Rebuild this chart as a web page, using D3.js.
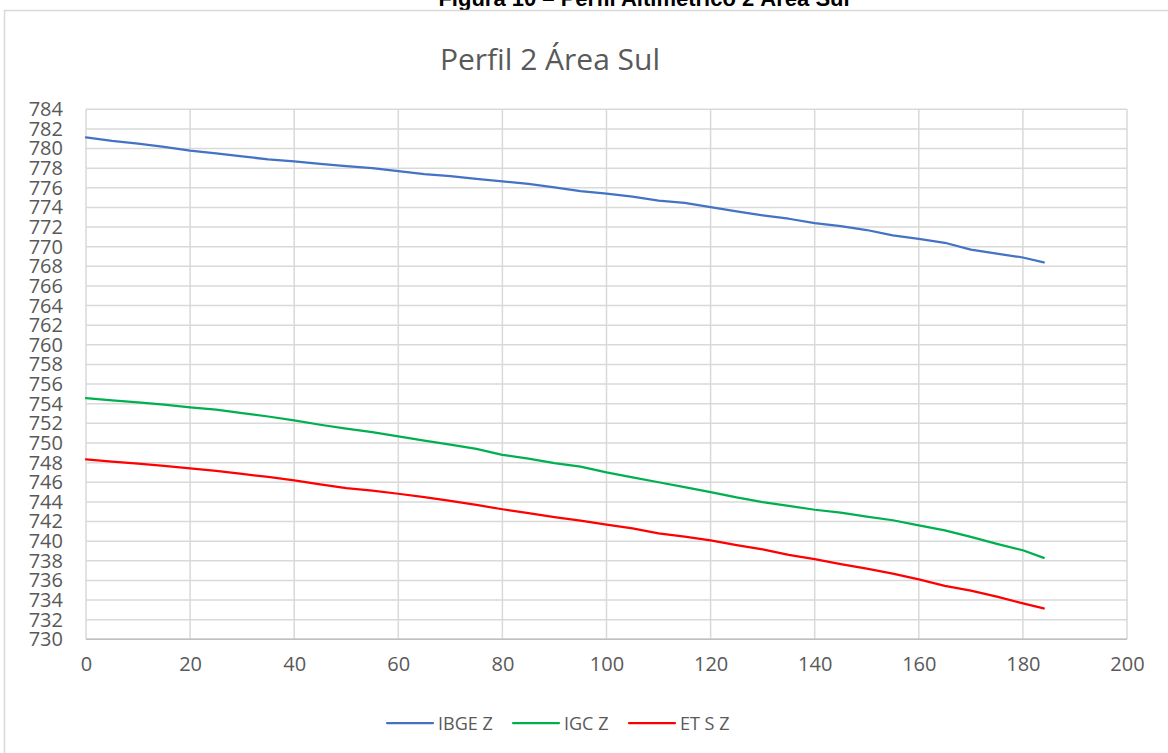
<!DOCTYPE html>
<html>
<head>
<meta charset="utf-8">
<script src="https://cdn.jsdelivr.net/npm/d3@7"></script>
<style>
  body { margin: 0; background: #fff; }
  text { font-family: "Open Sans", sans-serif; }
</style>
</head>
<body>
<svg id="chart" width="1168" height="753"></svg>
<script>
// distance along profile (x values)
const distances = [0, 5, 10, 15, 20, 25, 30, 35, 40, 45, 50, 55, 60, 65, 70, 75, 80, 85, 90,
  95, 100, 105, 110, 115, 120, 125, 130, 135, 140, 145, 150, 155, 160, 165, 170, 175, 180, 184];

// elevations
const ibgeZ = [781.15, 780.78, 780.5, 780.17, 779.8, 779.5, 779.2, 778.9, 778.7, 778.45, 778.2, 778.0,
  777.7, 777.4, 777.2, 776.9, 776.65, 776.4, 776.05, 775.67, 775.4, 775.1, 774.7, 774.47, 774.03,
  773.6, 773.2, 772.85, 772.4, 772.1, 771.7, 771.15, 770.8, 770.4, 769.7, 769.3, 768.9, 768.4];

const igcZ = [754.58, 754.34, 754.14, 753.9, 753.63, 753.39, 753.05, 752.7, 752.3, 751.86, 751.46, 751.1,
  750.68, 750.24, 749.83, 749.4, 748.8, 748.4, 747.95, 747.6, 747.0, 746.5, 746.0, 745.5, 745.0,
  744.45, 743.97, 743.6, 743.2, 742.9, 742.5, 742.13, 741.6, 741.1, 740.44, 739.73, 739.07, 738.3];

const etsZ = [748.34, 748.1, 747.9, 747.66, 747.42, 747.15, 746.85, 746.54, 746.2, 745.78, 745.4, 745.14,
  744.83, 744.48, 744.1, 743.7, 743.25, 742.85, 742.45, 742.1, 741.68, 741.3, 740.8, 740.46, 740.07,
  739.6, 739.17, 738.6, 738.17, 737.66, 737.2, 736.7, 736.1, 735.45, 734.95, 734.35, 733.66, 733.15];

const seriesNames = ["IBGE Z", "IGC Z", "ET S Z"];
const seriesColors = ["#4472C4", "#00B050", "#FF0000"];
const yTicks = d3.range(730, 785, 2);
const xTicks = [0, 20, 40, 60, 80, 100, 120, 140, 160, 180, 200];

const svg = d3.select("#chart");

// plot area
const plot = {left: 86, right: 1127, top: 109.3, bottom: 639.3};

const x = d3.scaleLinear().domain([0, 200]).range([plot.left, plot.right]);
const y = d3.scaleLinear().domain([730, 784]).range([plot.bottom, plot.top]);

// figure caption, cut off at the top of the page
svg.append("text")
  .attr("x", 644)
  .attr("y", 6)
  .attr("text-anchor", "middle")
  .style("font-family", "'Liberation Sans', Arial, sans-serif")
  .style("font-size", "22px")
  .style("font-weight", "bold")
  .attr("fill", "#000")
  .text("Figura 10 – Perfil Altimétrico 2 Área Sul");

// chart frame
svg.append("rect")
  .attr("x", 4.5)
  .attr("y", 10.5)
  .attr("width", 1180)
  .attr("height", 780)
  .attr("fill", "#fff")
  .attr("stroke", "#d9d9d9")
  .attr("stroke-width", 1.5);

// chart title
svg.append("text")
  .attr("x", 550)
  .attr("y", 70)
  .attr("text-anchor", "middle")
  .style("font-size", "30px")
  .attr("fill", "#595959")
  .text("Perfil 2 Área Sul");

// gridlines
svg.append("g")
  .selectAll("line")
  .data(yTicks)
  .enter()
  .append("line")
  .attr("x1", plot.left)
  .attr("x2", plot.right)
  .attr("y1", d => y(d))
  .attr("y2", d => y(d))
  .attr("stroke", "#d9d9d9")
  .attr("stroke-width", 1.5);

svg.append("g")
  .selectAll("line")
  .data(xTicks)
  .enter()
  .append("line")
  .attr("x1", d => x(d))
  .attr("x2", d => x(d))
  .attr("y1", plot.top)
  .attr("y2", plot.bottom)
  .attr("stroke", "#d9d9d9")
  .attr("stroke-width", 1.5);

// bottom axis line
svg.append("line")
  .attr("x1", plot.left)
  .attr("x2", plot.right)
  .attr("y1", plot.bottom)
  .attr("y2", plot.bottom)
  .attr("stroke", "#bfbfbf")
  .attr("stroke-width", 1.5);

// axes (labels only)
const yAxis = d3.axisLeft(y).tickValues(yTicks).tickSize(0).tickPadding(0).tickFormat(d3.format("d"));
svg.append("g")
  .attr("transform", "translate(63,0)")
  .call(yAxis)
  .call(g => g.select(".domain").remove())
  .selectAll("text")
  .style("font-family", "'Open Sans', sans-serif")
  .style("font-size", "20px")
  .attr("fill", "#595959");

const xAxis = d3.axisBottom(x).tickValues(xTicks).tickSize(0).tickPadding(0).tickFormat(d3.format("d"));
svg.append("g")
  .attr("transform", "translate(0,657)")
  .call(xAxis)
  .call(g => g.select(".domain").remove())
  .selectAll("text")
  .style("font-family", "'Open Sans', sans-serif")
  .style("font-size", "20px")
  .attr("fill", "#595959");

// lines
const allSeries = [ibgeZ, igcZ, etsZ];
const line = d3.line()
  .x((d, i) => x(distances[i]))
  .y(d => y(d));

svg.append("g")
  .selectAll("path")
  .data(allSeries)
  .enter()
  .append("path")
  .attr("d", d => line(d))
  .attr("fill", "none")
  .attr("stroke", (d, i) => seriesColors[i])
  .attr("stroke-width", 2.25)
  .attr("stroke-linejoin", "round")
  .attr("stroke-linecap", "round");

// legend
const legendX = [387, 513, 629];
const legend = svg.append("g")
  .selectAll("g")
  .data(seriesNames)
  .enter()
  .append("g")
  .attr("transform", (d, i) => `translate(${legendX[i]},723)`);

legend.append("line")
  .attr("x1", 0)
  .attr("x2", 46)
  .attr("stroke", (d, i) => seriesColors[i])
  .attr("stroke-width", 2.25)
  .attr("stroke-linecap", "round");

legend.append("text")
  .attr("x", 51)
  .attr("y", 6.5)
  .style("font-size", "18px")
  .attr("fill", "#595959")
  .text(d => d);
</script>
</body>
</html>
